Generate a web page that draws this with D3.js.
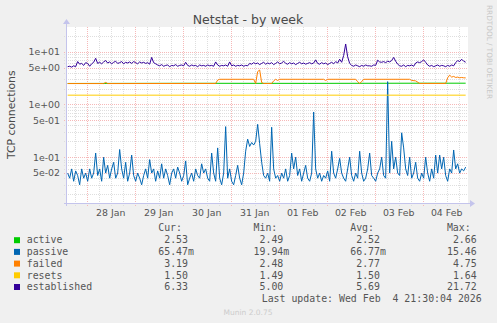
<!DOCTYPE html>
<html>
<head>
<meta charset="utf-8">
<script src="https://cdn.jsdelivr.net/npm/d3@7/dist/d3.min.js"></script>
<style>
  html, body { margin: 0; padding: 0; background: #f0f0f0; }
  svg { display: block; }
</style>
</head>
<body>
<svg id="chart"></svg>
<script>
// series names and colours (munin palette)
var seriesNames = ["active", "passive", "failed", "resets", "established"];
var seriesColors = ["#00cc00", "#0066b3", "#ff8000", "#ffcc00", "#330099"];

// legend numbers
var curText = ["2.53", "65.47m", "3.19", "1.50", "6.33"];
var minText = ["2.49", "19.94m", "2.48", "1.49", "5.00"];
var avgText = ["2.52", "66.77m", "2.77", "1.50", "5.69"];
var maxText = ["2.66", "15.46", "4.75", "1.64", "21.72"];

// y tick labels
var yTickValues = [10, 5, 1, 0.5, 0.1, 0.05];
var yTickLabels = ["1e+01", "5e+00", "1e+00", "5e-01", "1e-01", "5e-02"];

// hourly samples, first one 27 Jan 14:30 UTC
var passive = [
  0.05,0.04,0.06,0.035,0.055,0.045,0.03,0.06,0.04,0.05,
  0.035,0.06,0.04,0.05,0.12,0.045,0.06,0.035,0.10,0.05,
  0.07,0.04,0.06,0.08,0.04,0.05,0.14,0.06,0.04,0.08,
  0.035,0.05,0.11,0.045,0.035,0.05,0.04,0.03,0.045,0.06,
  0.04,0.09,0.05,0.06,0.035,0.055,0.04,0.075,0.04,0.06,
  0.045,0.03,0.05,0.06,0.04,0.065,0.05,0.035,0.045,0.085,
  0.03,0.04,0.05,0.035,0.06,0.045,0.04,0.075,0.05,0.06,
  0.04,0.035,0.12,0.05,0.035,0.15,0.04,0.03,0.05,0.38,
  0.04,0.06,0.035,0.03,0.045,0.07,0.04,0.03,0.05,0.13,
  0.22,0.16,0.19,0.17,0.2,0.42,0.18,0.08,0.045,0.04,
  0.05,0.035,0.37,0.06,0.04,0.045,0.035,0.05,0.04,0.06,
  0.035,0.045,0.12,0.06,0.10,0.045,0.06,0.035,0.05,0.07,
  0.04,0.035,0.05,0.72,0.06,0.04,0.05,0.035,0.045,0.04,
  0.055,0.035,0.13,0.05,0.04,0.06,0.095,0.05,0.04,0.035,
  0.06,0.10,0.045,0.035,0.05,0.04,0.13,0.05,0.035,0.04,
  0.06,0.12,0.045,0.04,0.035,0.05,0.06,0.10,0.045,0.04,
  2.7,0.05,0.2,0.06,0.10,0.05,0.045,0.29,0.15,0.06,
  0.045,0.10,0.04,0.05,0.08,0.04,0.035,0.05,0.04,0.10,
  0.05,0.035,0.06,0.04,0.11,0.05,0.11,0.06,0.10,0.045,
  0.035,0.06,0.05,0.137,0.06,0.075,0.05,0.06,0.055,0.065
];

var established = [
  5.2,5.3,5.1,5.4,5.2,6.5,5.8,6.0,5.5,6.2,
  6.0,5.3,5.9,6.3,7.5,6.0,6.3,5.9,6.4,6.8,
  6.1,6.4,5.9,6.3,6.6,6.0,6.2,6.5,5.9,6.3,
  6.1,6.4,6.0,6.5,6.2,5.9,6.4,6.1,6.3,6.0,
  6.2,5.8,7.8,6.2,5.9,5.6,5.4,5.7,5.3,5.5,
  5.6,5.2,5.5,5.4,5.7,5.3,5.5,5.6,5.4,6.3,
  5.5,5.3,5.6,5.4,5.5,5.2,5.6,5.4,5.5,5.3,
  5.6,5.4,5.5,5.3,6.4,5.6,5.3,5.5,5.4,5.6,
  5.3,6.4,5.4,5.6,5.3,5.5,5.4,5.6,5.3,5.5,
  5.4,6.0,5.8,6.2,5.9,6.1,5.7,6.0,6.3,5.8,
  6.1,5.9,6.2,5.7,6.0,6.4,5.9,6.1,6.6,6.0,
  5.8,6.2,5.9,6.1,5.7,6.0,6.3,5.9,6.1,5.8,
  6.0,6.2,5.9,6.1,7.0,6.0,5.8,6.2,5.9,6.1,
  5.7,6.0,6.3,5.9,6.5,6.1,7.2,6.3,8.5,14,
  8.0,6.0,5.5,5.3,5.6,5.4,5.2,5.5,5.3,5.6,
  5.4,5.4,5.3,5.6,5.5,6.9,6.4,6.3,6.5,6.2,
  6.6,6.4,6.8,7.8,6.6,5.8,5.4,5.3,5.6,5.2,
  5.5,5.4,5.6,5.3,6.1,6.4,6.2,6.5,7.0,6.3,
  5.6,5.3,5.5,5.2,5.4,5.6,5.3,5.5,5.4,5.2,
  5.5,5.3,5.6,5.4,6.2,6.8,6.5,7.2,6.6,6.33
];

// slow series, given only where they change (hour offset, value)
var activeHours = [0, 60, 120, 180, 199];
var activeValues = [2.50, 2.52, 2.51, 2.53, 2.53];

var failedHours = [0,18,19,20,74,75,76,93,94,95,96,97,98,102,103,104,105,106,128,129,130,
  144,145,146,147,148,171,172,174,176,189,190,191,192,193,194,195,196,197,198,199];
var failedValues = [2.49,2.49,2.62,2.49,2.50,2.90,3.00,3.00,2.50,4.20,4.50,2.60,2.50,2.50,2.80,3.00,2.85,3.00,3.00,2.85,3.00,
  3.00,2.70,2.50,2.70,3.00,3.00,2.85,2.80,2.50,2.50,3.20,3.60,3.30,3.40,3.25,3.30,3.20,3.25,3.20,3.19];

var resetsHours = [0, 100, 199];
var resetsValues = [1.50, 1.50, 1.50];

(function () {
  var W = 497, H = 323;
  var plotLeft = 67, plotRight = 467, plotTop = 27, plotBottom = 203;
  var HOUR = 3600e3;
  var firstSample = Date.UTC(2026, 0, 27, 14, 30);
  var tStart = Date.UTC(2026, 0, 27, 14, 10);
  var tEnd = tStart + 200 * HOUR;

  var svg = d3.select("#chart").attr("width", W).attr("height", H);

  svg.append("rect").attr("width", W).attr("height", H).attr("fill", "#f0f0f0");
  svg.append("rect")
    .attr("x", plotLeft).attr("y", plotTop)
    .attr("width", plotRight - plotLeft + 1).attr("height", plotBottom - plotTop)
    .attr("fill", "#ffffff");

  var x = d3.scaleUtc().domain([new Date(tStart), new Date(tEnd)]).range([plotLeft, plotRight]);
  var y = d3.scaleLog().domain([0.01355, 29.4]).range([plotBottom, plotTop]);

  function px(v) { return Math.round(v) + 0.5; }

  // grid: grey minor, red major, dotted
  var minorColor = "#dedede", majorColor = "#f6b8b8";
  var grid = svg.append("g").attr("shape-rendering", "crispEdges");

  var gridVals = [];
  [-2, -1, 0, 1].forEach(function (e) {
    for (var k = 1; k <= 9; k++) {
      var v = k * Math.pow(10, e);
      if (v >= 0.01355 && v <= 29.4) gridVals.push({ v: v, major: (k === 1 || k === 5) });
    }
  });

  grid.selectAll("line.h").data(gridVals).enter().append("line")
    .attr("x1", plotLeft - 3).attr("x2", plotRight + 1)
    .attr("y1", function (d) { return px(y(d.v)); })
    .attr("y2", function (d) { return px(y(d.v)); })
    .attr("stroke", function (d) { return d.major ? majorColor : minorColor; })
    .attr("stroke-dasharray", "1,1");

  var sixHours = d3.utcHour.every(6).range(new Date(tStart), new Date(tEnd));
  grid.selectAll("line.v").data(sixHours).enter().append("line")
    .attr("x1", function (d) { return px(x(d)); })
    .attr("x2", function (d) { return px(x(d)); })
    .attr("y1", plotTop).attr("y2", plotBottom + 3)
    .attr("stroke", function (d) { return d.getUTCHours() === 0 ? majorColor : minorColor; })
    .attr("stroke-dasharray", "1,1");

  // series
  function hourly(arr) {
    return arr.map(function (v, i) { return { t: new Date(firstSample + i * HOUR), v: v }; });
  }
  function sparse(hours, vals) {
    return hours.map(function (h, i) { return { t: new Date(firstSample + h * HOUR), v: vals[i] }; });
  }

  var line = d3.line()
    .x(function (d) { return x(d.t); })
    .y(function (d) { return y(d.v); });

  var seriesData = [
    sparse(activeHours, activeValues),
    hourly(passive),
    sparse(failedHours, failedValues),
    sparse(resetsHours, resetsValues),
    hourly(established)
  ];

  svg.append("g").selectAll("path").data(seriesData).enter().append("path")
    .attr("d", line)
    .attr("fill", "none")
    .attr("stroke", function (d, i) { return seriesColors[i]; })
    .attr("stroke-width", 1)
    .attr("stroke-linejoin", "round");

  // axes
  var axisColor = "#c4c4ec";
  svg.append("line")
    .attr("x1", plotLeft - 0.5).attr("x2", plotLeft - 0.5).attr("y1", plotTop - 4).attr("y2", plotBottom + 3)
    .attr("stroke", axisColor);
  svg.append("line")
    .attr("x1", plotLeft - 3).attr("x2", plotRight + 4).attr("y1", plotBottom + 0.5).attr("y2", plotBottom + 0.5)
    .attr("stroke", axisColor);
  svg.append("path")
    .attr("d", "M" + (plotLeft - 4) + "," + (plotTop - 3) + "L" + (plotLeft - 0.5) + "," + (plotTop - 8) +
      "L" + (plotLeft + 3) + "," + (plotTop - 3) + "Z")
    .attr("fill", axisColor);
  svg.append("path")
    .attr("d", "M" + (plotRight + 3) + "," + (plotBottom - 3) + "L" + (plotRight + 8) + "," + (plotBottom + 0.5) +
      "L" + (plotRight + 3) + "," + (plotBottom + 4) + "Z")
    .attr("fill", axisColor);

  // tick labels
  var textColor = "#555";
  svg.append("g").selectAll("text").data(yTickValues).enter().append("text")
    .attr("x", 60)
    .attr("y", function (d) { return y(d) + 3.4; })
    .attr("text-anchor", "end")
    .attr("font-family", "DejaVu Sans")
    .attr("font-size", "9.4px")
    .attr("fill", textColor)
    .text(function (d, i) { return yTickLabels[i]; });

  var noons = d3.utcDay.range(new Date(tStart), new Date(tEnd))
    .map(function (d) { return new Date(+d + 12 * HOUR); })
    .filter(function (d) { return x(d) > plotLeft + 15 && x(d) < plotRight; });
  svg.append("g").selectAll("text").data(noons).enter().append("text")
    .attr("x", function (d) { return x(d); })
    .attr("y", 216)
    .attr("text-anchor", "middle")
    .attr("font-family", "DejaVu Sans")
    .attr("font-size", "9.4px")
    .attr("fill", textColor)
    .text(d3.utcFormat("%d %b"));

  // titles
  svg.append("text")
    .attr("x", 248).attr("y", 24)
    .attr("text-anchor", "middle")
    .attr("font-family", "DejaVu Sans")
    .attr("font-size", "12.5px")
    .attr("fill", "#4a4a4a")
    .text("Netstat - by week");

  svg.append("text")
    .attr("transform", "translate(15,114.7) rotate(-90)")
    .attr("text-anchor", "middle")
    .attr("font-family", "DejaVu Sans")
    .attr("font-size", "10.8px")
    .attr("fill", "#4a4a4a")
    .text("TCP connections");

  svg.append("text")
    .attr("transform", "translate(487,5) rotate(90)")
    .attr("font-family", "DejaVu Sans")
    .attr("font-size", "7.3px")
    .attr("fill", "#c8c8c8")
    .text("RRDTOOL / TOBI OETIKER");

  // legend
  var charW = 5.96;
  var legend = svg.append("g")
    .attr("font-family", "DejaVu Sans Mono")
    .attr("font-size", "9.9px")
    .attr("fill", textColor);

  var headers = [["Cur:", 182], ["Min:", 277.3], ["Avg:", 374], ["Max:", 470.7]];
  headers.forEach(function (h) {
    legend.append("text").attr("x", h[1]).attr("y", 230.7).attr("text-anchor", "end").text(h[0]);
  });

  var columns = [[curText, 188], [minText, 283.3], [avgText, 380], [maxText, 476.7]];
  seriesNames.forEach(function (name, i) {
    var by = 243.4 + i * 11.7;
    legend.append("rect")
      .attr("x", 14).attr("y", by - 6.2).attr("width", 6).attr("height", 6)
      .attr("fill", seriesColors[i]);
    legend.append("text").attr("x", 26.7).attr("y", by).text(name);
    columns.forEach(function (c) {
      var s = c[0][i];
      var hasSuffix = /[a-zA-Z]$/.test(s);
      legend.append("text")
        .attr("x", c[1] + (hasSuffix ? charW : 0))
        .attr("y", by)
        .attr("text-anchor", "end")
        .text(s);
    });
  });

  legend.append("text")
    .attr("x", 261.7).attr("y", 302)
    .style("white-space", "pre")
    .text("Last update: Wed Feb  4 21:30:04 2026");

  svg.append("text")
    .attr("x", 248).attr("y", 315)
    .attr("text-anchor", "middle")
    .attr("font-family", "DejaVu Sans")
    .attr("font-size", "7.5px")
    .attr("fill", "#cccccc")
    .text("Munin 2.0.75");
})();
</script>
</body>
</html>
